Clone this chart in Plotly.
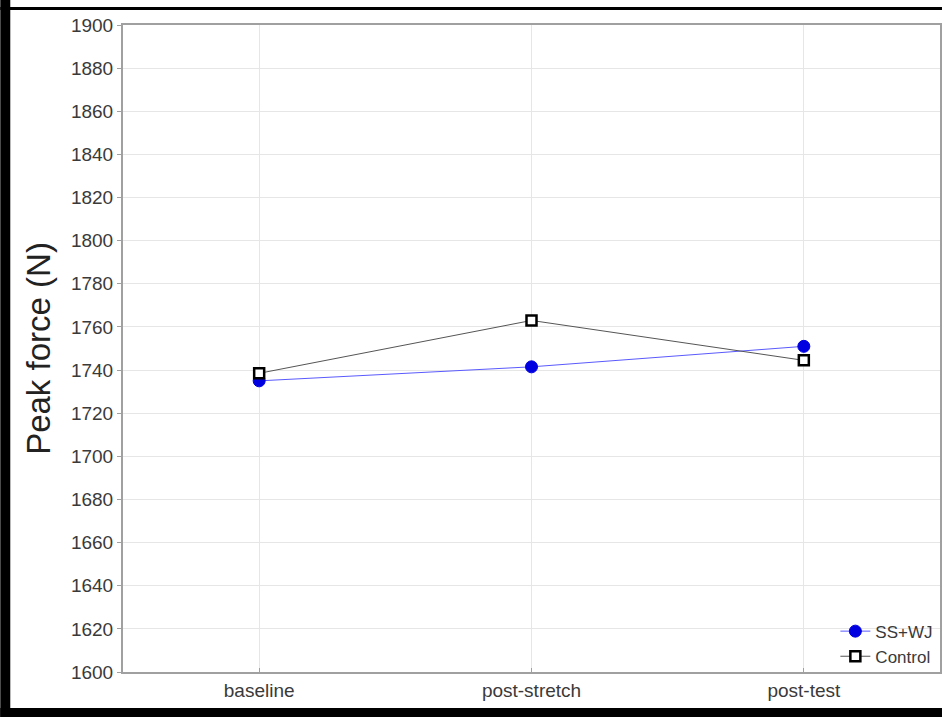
import plotly.graph_objects as go

categories = ["baseline", "post-stretch", "post-test"]
ss_wj = [1735, 1741.5, 1751]
control = [1738.5, 1763, 1744.5]
y_ticks = list(range(1600, 1901, 20))

FONT = "Liberation Sans, Arial, sans-serif"

fig = go.Figure()
fig.add_trace(go.Scatter(
    x=categories, y=ss_wj, name="SS+WJ", mode="lines+markers",
    line=dict(color="#5a5aff", width=1),
    marker=dict(symbol="circle", size=12, color="#0000e0", line=dict(color="#0000e0", width=1)),
))
fig.add_trace(go.Scatter(
    x=categories, y=control, name="Control", mode="lines+markers",
    line=dict(color="#555555", width=1),
    marker=dict(symbol="square", size=10, color="white", line=dict(color="black", width=2.5)),
))

fig.update_layout(
    width=944, height=717,
    margin=dict(l=123, r=2, t=25, b=45),
    paper_bgcolor="white", plot_bgcolor="white",
    font=dict(family=FONT, size=18, color="#3a3a3a"),
    showlegend=True,
    legend=dict(x=0.998, y=-0.004, xanchor="right", yanchor="bottom",
                bgcolor="rgba(0,0,0,0)", font=dict(size=17, color="#3a3a3a"),
                itemwidth=30, tracegroupgap=0),
    xaxis=dict(
        type="category", range=[-0.5, 2.5],
        showgrid=True, gridcolor="#e6e6e6", gridwidth=1,
        showline=True, linecolor="#a0a0a0", linewidth=2, mirror=True,
        ticks="inside", ticklen=4, tickcolor="#a0a0a0",
        tickfont=dict(size=19, color="#3a3a3a"),
        zeroline=False,
    ),
    yaxis=dict(
        range=[1600, 1900], tickvals=y_ticks,
        showgrid=True, gridcolor="#e6e6e6", gridwidth=1,
        showline=True, linecolor="#a0a0a0", linewidth=2, mirror=True,
        ticks="outside", ticklen=4, tickcolor="#a0a0a0",
        tickfont=dict(size=19, color="#3a3a3a"),
        title=dict(text="Peak force (N)", font=dict(size=33, color="#222222"), standoff=10),
        zeroline=False,
    ),
)

# black frame around the figure (left, top, bottom)
pw, ph = 819.0, 647.0
def px_x(p):
    return (p - 123) / pw
def px_y(p):
    return (672 - p) / ph

frame_rects = [
    (0, 0, 10, 717),     # left
    (0, 7, 944, 10),     # top
    (0, 708, 944, 717),  # bottom
]
fig.add_shape(type="rect", xref="paper", yref="paper",
              x0=px_x(0), x1=px_x(944), y0=px_y(7), y1=px_y(0),
              fillcolor="white", line=dict(width=0), layer="above")
for x0, y0, x1, y1 in frame_rects:
    fig.add_shape(type="rect", xref="paper", yref="paper",
                  x0=px_x(x0), x1=px_x(x1), y0=px_y(y1), y1=px_y(y0),
                  fillcolor="black", line=dict(width=0), layer="above")

fig.write_html("out.html", config={"displayModeBar": False},
               post_script="document.body.style.margin='0px';document.body.style.overflow='hidden';")
